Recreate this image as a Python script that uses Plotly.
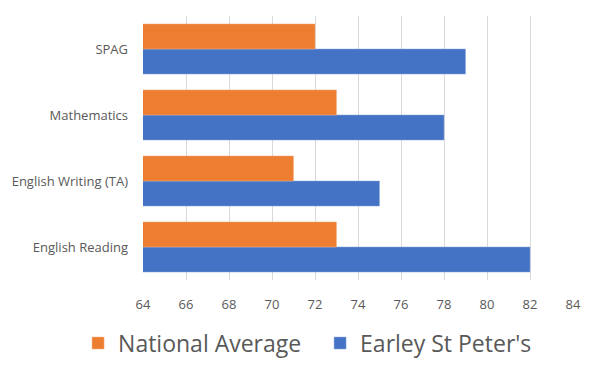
import plotly.graph_objects as go

categories = ["English Reading", "English Writing (TA)", "Mathematics", "SPAG"]
national = [73, 71, 73, 72]
earley = [82, 75, 78, 79]
x_ticks = [64, 66, 68, 70, 72, 74, 76, 78, 80, 82, 84]

fig = go.Figure()
fig.add_trace(go.Bar(y=categories, x=earley, orientation="h", name="Earley St Peter's",
                     marker=dict(color="#4472C4", line=dict(color="#8FAADC", width=0.5)),
                     legendrank=2))
fig.add_trace(go.Bar(y=categories, x=national, orientation="h", name="National Average",
                     marker=dict(color="#ED7D31", line=dict(color="#F4B183", width=0.5)),
                     legendrank=1))

fig.update_layout(
    width=592, height=363,
    margin=dict(l=135, r=27, t=8, b=91, autoexpand=False),
    barmode="group", bargap=0.24, bargroupgap=0,
    plot_bgcolor="white", paper_bgcolor="white",
    font=dict(family="Open Sans", color="#595959", size=13),
    xaxis=dict(range=[64, 84], tickvals=x_ticks, showgrid=True, gridcolor="#D9D9D9",
               gridwidth=1, zeroline=False, showline=False, ticks="", automargin=False,
               tickfont=dict(size=13, color="#595959"), ticklabelstandoff=15),
    yaxis=dict(categoryorder="array", categoryarray=categories, showgrid=False,
               ticks="", showline=False, automargin=False,
               tickfont=dict(size=13, color="#595959"), ticklabelstandoff=14),
    legend=dict(orientation="h", x=-0.151, xanchor="left", y=-0.239, yanchor="middle",
                font=dict(size=23, color="#595959"),
                entrywidthmode="pixels", entrywidth=197),
    showlegend=True,
)
fig.write_html("out.html")
